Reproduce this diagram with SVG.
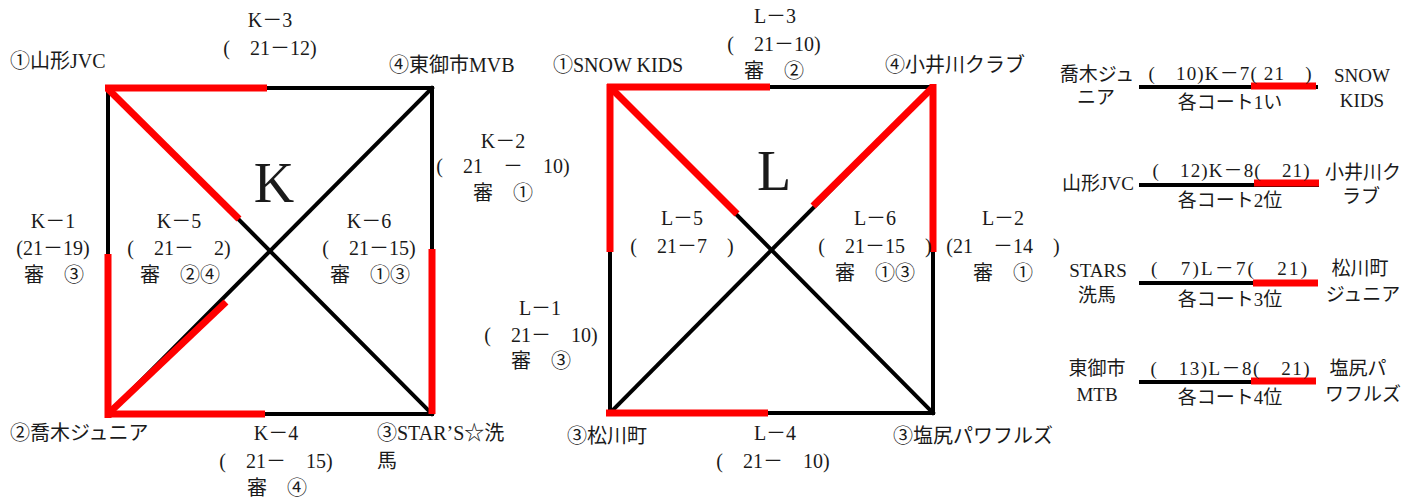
<svg xmlns="http://www.w3.org/2000/svg" width="1418" height="501" viewBox="0 0 1418 501">
<style>
.t{font-family:"Liberation Serif","Noto Sans CJK JP",serif;font-size:20px;fill:#1a1a1a;white-space:pre}
.lat{font-family:"Liberation Serif",serif}
.m{text-anchor:middle}
.s{font-size:19px}
.big{font-size:56px}
.blk{stroke:#000;stroke-width:4;fill:none;stroke-linecap:square}
.red{stroke:#ff0000;stroke-width:7;fill:none}
</style>
<rect width="1418" height="501" fill="#fff"/>
<g id="connectors">
  <!-- K square -->
  <rect class="blk" x="108" y="88" width="324" height="326"/>
  <line class="blk" x1="108" y1="88" x2="432" y2="414"/>
  <line class="blk" x1="432" y1="88" x2="108" y2="414"/>
  <line class="red" x1="105" y1="88" x2="267" y2="88"/>
  <line class="red" x1="108" y1="89" x2="239" y2="219"/>
  <line class="red" x1="108" y1="254" x2="108" y2="418"/>
  <line class="red" x1="109" y1="413" x2="226" y2="302"/>
  <line class="red" x1="105" y1="414" x2="265" y2="414"/>
  <line class="red" x1="432" y1="249" x2="432" y2="414"/>
  <!-- L square -->
  <rect class="blk" x="610" y="87" width="323" height="326"/>
  <line class="blk" x1="610" y1="87" x2="933" y2="413"/>
  <line class="blk" x1="933" y1="87" x2="610" y2="413"/>
  <line class="red" x1="607" y1="87" x2="770" y2="87"/>
  <line class="red" x1="610" y1="84" x2="610" y2="252"/>
  <line class="red" x1="611" y1="88" x2="737" y2="214"/>
  <line class="red" x1="933" y1="84" x2="933" y2="252"/>
  <line class="red" x1="932" y1="88" x2="813" y2="206"/>
  <line class="red" x1="606" y1="413" x2="768" y2="413"/>
  <!-- right column -->
  <line class="blk" x1="1141" y1="87" x2="1316" y2="87"/>
  <line class="red" x1="1251" y1="86" x2="1316" y2="86"/>
  <line class="blk" x1="1141" y1="185" x2="1317" y2="185"/>
  <line class="red" x1="1254" y1="183" x2="1319" y2="183"/>
  <line class="blk" x1="1141" y1="283" x2="1316" y2="283"/>
  <line class="red" x1="1253" y1="283" x2="1318" y2="283"/>
  <line class="blk" x1="1141" y1="382" x2="1314" y2="382"/>
  <line class="red" x1="1251" y1="381" x2="1316" y2="381"/>
</g>
<g id="K-labels">
  <text class="t big m" x="274" y="202">K</text>
  <g id="K1"><text class="t m" x="53" y="228">K－1</text><text class="t m" x="53" y="255">(21－19)</text><text class="t m" x="54" y="282">審　③</text></g>
  <g id="K2"><text class="t m" x="503" y="148">K－2</text><text class="t m" x="503" y="173">(　21　－　10)</text><text class="t m" x="503" y="200">審　①</text></g>
  <g id="K3"><text class="t m" x="270" y="27">K－3</text><text class="t m" x="270" y="55">(　21－12)</text></g>
  <g id="K4"><text class="t m" x="276" y="440">K－4</text><text class="t m" x="276" y="468">(　21－　15)</text><text class="t m" x="277" y="495">審　④</text></g>
  <g id="K5"><text class="t m" x="179" y="228">K－5</text><text class="t m" x="179" y="255">(　21－　2)</text><text class="t m" x="180" y="282">審　②④</text></g>
  <g id="K6"><text class="t m" x="369" y="228">K－6</text><text class="t m" x="369" y="255">(　21－15)</text><text class="t m" x="370" y="282">審　①③</text></g>
  <g id="K-team1"><text class="t" x="10" y="68">①山形<tspan class="lat">JVC</tspan></text></g>
  <g id="K-team4"><text class="t" x="389" y="72">④東御市<tspan class="lat">MVB</tspan></text></g>
  <g id="K-team2"><text class="t" x="10" y="440">②喬木ジュニア</text></g>
  <g id="K-team3"><text class="t" x="377" y="440">③<tspan class="lat">STAR’S</tspan>☆洗</text><text class="t" x="377" y="468">馬</text></g>
</g>
<g id="L-labels">
  <text class="t big m" x="774" y="190">L</text>
  <g id="L1"><text class="t m" x="540" y="315">L－1</text><text class="t m" x="541" y="342">(　21－　10)</text><text class="t m" x="541" y="368">審　③</text></g>
  <g id="L2"><text class="t m" x="1003" y="225">L－2</text><text class="t m" x="1003" y="253">(21　－14　)</text><text class="t m" x="1003" y="280">審　①</text></g>
  <g id="L3"><text class="t m" x="775" y="23">L－3</text><text class="t m" x="774" y="51">(　21－10)</text><text class="t m" x="774" y="78">審　②</text></g>
  <g id="L4"><text class="t m" x="775" y="440">L－4</text><text class="t m" x="773" y="468">(　21－　10)</text></g>
  <g id="L5"><text class="t m" x="682" y="225">L－5</text><text class="t m" x="682" y="253">(　21－7　)</text></g>
  <g id="L6"><text class="t m" x="875" y="225">L－6</text><text class="t m" x="875" y="253">(　21－15　)</text><text class="t m" x="875" y="280">審　①③</text></g>
  <g id="L-team1"><text class="t" x="553" y="72">①<tspan class="lat">SNOW KIDS</tspan></text></g>
  <g id="L-team4"><text class="t" x="885" y="72">④小井川クラブ</text></g>
  <g id="L-team3a"><text class="t" x="567" y="443">③松川町</text></g>
  <g id="L-team3b"><text class="t" x="893" y="443">③塩尻パワフルズ</text></g>
</g>
<g id="finals">
  <g id="K7"><text class="t s m" x="1097" y="81">喬木ジュ</text><text class="t s m" x="1096" y="104">ニア</text><text class="t s m" x="1230" y="80" textLength="163">(　10)K－7( 21　)</text><text class="t s m" x="1230" y="109">各コート<tspan class="lat">1</tspan>い</text><text class="t s m" x="1362" y="82">SNOW</text><text class="t s m" x="1362" y="107">KIDS</text></g>
  <g id="K8"><text class="t s m" x="1098" y="190">山形<tspan class="lat">JVC</tspan></text><text class="t s m" x="1231" y="177" textLength="157">(　12)K－8(　21)</text><text class="t s m" x="1230" y="207">各コート<tspan class="lat">2</tspan>位</text><text class="t s m" x="1363" y="179">小井川ク</text><text class="t s m" x="1361" y="203">ラブ</text></g>
  <g id="L7"><text class="t s m" x="1098" y="277">STARS</text><text class="t s m" x="1097" y="302">洗馬</text><text class="t s m" x="1229" y="275" textLength="156">(　7)L－7(　21)</text><text class="t s m" x="1230" y="306">各コート<tspan class="lat">3</tspan>位</text><text class="t s m" x="1360" y="275">松川町</text><text class="t s m" x="1363" y="301">ジュニア</text></g>
  <g id="L8"><text class="t s m" x="1097" y="375">東御市</text><text class="t s m" x="1097" y="401">MTB</text><text class="t s m" x="1230" y="375" textLength="159">(　13)L－8(　21)</text><text class="t s m" x="1230" y="404">各コート<tspan class="lat">4</tspan>位</text><text class="t s m" x="1358" y="375">塩尻パ</text><text class="t s m" x="1363" y="401">ワフルズ</text></g>
</g>
</svg>
